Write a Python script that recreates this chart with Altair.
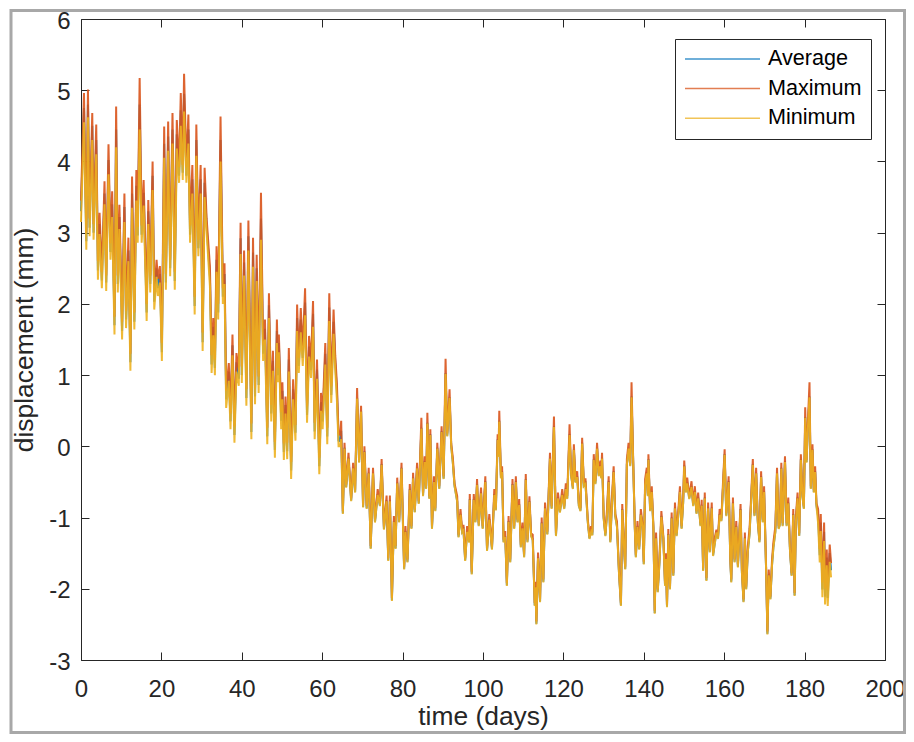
import altair as alt
import pandas as pd

DAYS = [
    0.0, 0.74, 1.32, 1.73, 2.14, 2.80, 3.13, 3.79, 4.21, 4.62,
    5.19, 5.85, 6.27, 6.84, 7.34, 7.75, 8.33, 8.74, 9.15, 9.56,
    10.22, 10.80, 11.21, 11.79, 12.29, 12.70, 13.27, 13.77, 14.10, 14.59,
    15.09, 15.58, 16.33, 16.74, 17.23, 17.81, 18.22, 18.80, 19.13, 19.62,
    20.12, 20.69, 21.11, 21.68, 22.18, 22.76, 23.33, 23.83, 24.40, 24.82,
    25.31, 25.64, 26.22, 26.71, 27.13, 27.70, 28.28, 28.69, 29.19, 29.76,
    30.26, 30.75, 31.25, 32.07, 32.49, 32.90, 33.31, 33.72, 34.13, 34.71,
    35.29, 35.70, 36.11, 36.77, 37.19, 37.68, 38.17, 38.67, 39.25, 39.70,
    40.00, 40.57, 41.14, 41.64, 42.38, 42.79, 43.29, 43.70, 44.19, 44.77,
    45.30, 45.76, 46.34, 46.75, 47.33, 47.74, 48.23, 48.73, 49.00, 49.22,
    49.80, 50.10, 50.46, 50.87, 51.29, 51.70, 52.27, 52.77, 53.35, 53.76,
    54.17, 54.67, 55.16, 55.74, 56.23, 56.73, 57.22, 57.72, 58.13, 58.71,
    59.28, 59.70, 60.11, 60.77, 61.26, 61.76, 62.25, 62.83, 63.24, 63.65,
    64.07, 64.48, 64.72, 65.14, 65.55, 65.96, 66.54, 67.20, 67.69, 68.19,
    68.68, 69.18, 69.67, 70.17, 70.50, 71.07, 71.57, 72.06, 72.64, 73.13,
    73.80, 74.37, 74.78, 75.36, 76.02, 76.43, 76.84, 77.34, 77.83, 78.25,
    78.66, 79.15, 79.73, 80.38, 80.71, 81.21, 81.79, 82.20, 82.61, 83.02,
    83.60, 84.01, 84.67, 85.08, 85.50, 85.85, 86.16, 86.65, 86.90, 87.31,
    87.80, 88.13, 88.63, 89.12, 89.70, 90.20, 90.69, 91.10, 91.68, 92.09,
    92.50, 92.92, 93.58, 93.91, 94.40, 94.81, 95.14, 95.56, 96.05, 96.54,
    96.71, 97.20, 97.70, 98.11, 98.52, 98.94, 99.51, 99.92, 100.58, 101.00,
    101.57, 102.23, 102.81, 103.20, 103.64, 103.85, 104.05, 104.46, 104.75, 105.12,
    105.53, 105.94, 106.36, 106.77, 107.34, 107.76, 108.17, 108.58, 109.00, 109.41,
    109.82, 110.23, 110.64, 111.06, 111.55, 111.96, 112.37, 112.87, 113.05, 113.28,
    113.69, 114.19, 114.60, 115.01, 115.43, 116.00, 116.66, 117.07, 117.65, 118.15,
    118.64, 119.14, 119.71, 120.20, 120.60, 120.95, 121.53, 121.94, 122.36, 122.60,
    123.01, 123.43, 123.84, 124.25, 124.66, 125.08, 125.49, 126.07, 126.48, 126.89,
    127.20, 127.55, 127.96, 128.37, 128.79, 129.20, 129.40, 129.61, 130.02, 130.44,
    130.85, 131.26, 131.67, 132.08, 132.50, 132.91, 133.32, 133.82, 134.31, 134.64,
    134.97, 135.38, 135.79, 136.21, 136.62, 136.95, 137.36, 137.77, 138.02, 138.43,
    138.85, 139.26, 139.67, 140.00, 140.33, 140.74, 141.00, 141.15, 141.57, 141.98,
    142.39, 142.72, 143.05, 143.46, 143.87, 144.37, 144.86, 145.28, 145.50, 145.77,
    146.10, 146.51, 146.93, 147.34, 147.75, 148.16, 148.66, 148.99, 149.40, 149.81,
    150.06, 150.47, 150.80, 151.30, 151.87, 152.28, 152.70, 153.11, 153.52, 154.10,
    154.40, 154.76, 155.17, 155.58, 156.00, 156.41, 156.90, 157.23, 157.73, 158.06,
    158.46, 158.87, 159.30, 159.70, 160.11, 160.52, 161.10, 161.51, 161.76, 162.17,
    162.58, 163.00, 163.41, 163.82, 164.07, 164.40, 164.81, 165.14, 165.47, 165.88,
    166.30, 166.71, 167.12, 167.53, 167.94, 168.36, 168.77, 169.18, 169.59, 169.92,
    170.42, 170.75, 171.08, 171.49, 171.90, 172.23, 172.73, 173.14, 173.55, 173.88,
    174.21, 174.54, 175.12, 175.53, 175.94, 176.35, 176.77, 177.18, 177.51, 177.84,
    178.25, 178.66, 179.07, 179.49, 179.82, 180.15, 180.48, 180.81, 181.22, 181.55,
    181.96, 182.29, 182.62, 182.95, 183.36, 183.77, 184.02, 184.43, 184.85, 185.09,
    185.51, 185.75, 186.25, 186.58,
]

MAXIMUM = [
    3.45, 4.96, 3.0, 5.01, 3.2, 4.68, 3.12, 4.52, 2.6, 3.28,
    2.45, 3.72, 2.4, 4.24, 2.85, 3.58, 1.82, 4.77, 2.4, 3.39,
    1.75, 3.55, 1.9, 2.93, 1.3, 3.79, 1.88, 3.88, 3.08, 5.17,
    3.1, 3.74, 2.0, 3.46, 2.4, 4.0, 2.15, 2.62, 2.35, 2.53,
    1.45, 4.49, 2.42, 4.56, 2.62, 4.68, 2.45, 4.58, 3.92, 4.96,
    3.95, 5.23, 3.92, 4.66, 3.1, 3.95, 2.1, 4.52, 2.9, 3.95,
    1.6, 3.91, 3.2, 2.53, 1.28, 1.8, 1.22, 2.81, 2.0, 4.63,
    2.22, 2.57, 0.78, 1.17, 0.46, 1.57, 0.28, 1.31, 1.05, 3.14,
    1.12, 2.75, 0.8, 3.17, 0.32, 2.93, 0.82, 2.69, 0.98, 3.56,
    1.42, 1.78, 0.26, 2.15, 0.58, 1.34, 0.06, 1.78, 1.1, 1.57,
    0.48, 0.9, 0.04, 0.7, 0.05, 1.38, -0.22, 0.94, 0.3, 1.99,
    1.24, 1.94, 1.35, 2.22, 0.56, 1.55, 1.18, 2.04, 0.33, 1.22,
    -0.16, 0.75, 0.46, 1.45, 0.26, 2.15, 0.84, 1.92, 1.28, 0.89,
    0.18, 0.16, 0.36, -0.91, 0.05, -0.54, -0.09, -0.73, -0.23, -0.61,
    0.82, -0.19, 0.57, -0.82, 0.0, -0.84, -0.30, -1.40, -0.30, -1.03,
    -0.60, -0.80, -0.18, -1.13, -0.69, -1.57, -0.69, -2.13, -0.98, -1.40,
    -0.44, -1.03, -0.23, -1.69, -1.12, -1.59, -0.53, -1.12, -0.37, -0.89,
    -0.23, -0.77, 0.40, -0.66, -0.14, -0.56, 0.47, -0.70, 0.24, -1.12,
    -0.42, -0.87, 0.05, -0.56, 0.28, -0.42, 1.23, 0.18, 0.80, 0.04,
    -0.16, -0.52, -0.70, -1.24, -0.88, -1.17, -1.10, -1.57, -1.12, -1.31,
    -0.67, -1.76, -0.67, -1.03, -0.46, -1.08, -0.58, -1.12, -0.42, -1.43,
    -0.95, -1.41, -0.60, -0.86, 0.17, -0.11, 0.50, -0.41, -0.28, -1.31,
    -1.19, -1.92, -0.98, -1.59, -0.46, -1.12, -0.42, -1.03, -0.74, -1.38,
    -1.07, -1.52, -0.39, -1.31, -0.70, -1.22, -1.24, -2.20, -1.90, -2.46,
    -1.49, -2.15, -1.00, -1.87, -0.79, -1.20, -0.09, -0.84, 0.42, -1.22,
    -0.65, -0.89, -0.60, -0.84, -0.52, -0.70, 0.31, -0.38, -0.56, 0.03,
    -0.47, -0.35, -0.80, -0.87, 0.12, -0.52, -0.45, -1.03, -1.26, -1.12,
    -1.21, -0.11, -0.49, 0.05, -0.38, -0.20, -0.41, -0.09, -0.98, -1.22,
    -0.88, -0.42, -1.31, -0.72, -0.28, -0.95, -1.05, -1.73, -2.20, -0.81,
    -1.26, -1.69, -0.18, 0.05, -0.24, 0.90, -0.19, -1.12, -1.52, -1.05,
    -1.41, -0.88, -1.08, -1.62, -0.46, -0.30, -0.66, -0.11, -0.87, -0.56,
    -1.12, -2.31, -1.21, -2.01, -1.59, -0.91, -1.26, -1.92, -1.50, -2.22,
    -1.16, -1.97, -0.93, -1.78, -0.79, -1.22, -0.84, -0.56, -1.12, -0.70,
    -0.20, -0.61, -0.44, -0.70, -0.49, -0.80, -0.56, -0.91, -0.65, -1.08,
    -0.75, -1.71, -0.65, -1.85, -0.79, -1.45, -0.79, -1.50, -1.26, -1.17,
    -1.26, -0.88, -1.01, -0.51, -0.04, -0.94, -0.42, -1.55, -1.87, -0.72,
    -1.59, -1.05, -1.66, -1.12, -0.81, -1.73, -2.15, -1.21, -1.97, -1.40,
    -1.16, -0.70, -0.18, -0.94, -0.30, -1.03, -1.31, -0.35, -1.03, -0.56,
    -1.69, -2.60, -1.73, -2.11, -1.59, -1.35, -1.12, -0.30, -1.12, -1.02,
    -0.23, -1.08, -0.14, -1.08, -0.72, -1.41, -1.78, -0.88, -2.06, -0.98,
    -0.65, -1.22, -0.11, -0.68, -0.84, 0.55, -0.19, 0.33, 0.90, -0.56,
    0.03, -0.61, -0.28, -0.80, -0.88, -1.44, -0.95, -1.91, -1.07, -2.0,
    -1.45, -2.02, -1.38, -1.64,
]

AVERAGE = [
    3.3, 4.75, 2.88, 4.8, 3.07, 4.5, 3.0, 4.3, 2.47, 3.12,
    2.33, 3.55, 2.3, 4.02, 2.73, 3.4, 1.7, 4.45, 2.28, 3.22,
    1.62, 3.36, 1.78, 2.75, 1.18, 3.55, 1.75, 3.66, 2.96, 4.8,
    2.97, 3.56, 1.88, 3.3, 2.28, 3.8, 2.03, 2.5, 2.22, 2.42,
    1.32, 4.25, 2.3, 4.35, 2.5, 4.45, 2.32, 4.38, 3.8, 4.72,
    3.84, 4.95, 3.8, 4.45, 2.97, 3.75, 1.97, 4.3, 2.78, 3.75,
    1.46, 3.7, 3.1, 2.38, 1.15, 1.68, 1.1, 2.62, 1.88, 4.3,
    2.1, 2.42, 0.66, 1.05, 0.35, 1.42, 0.16, 1.18, 0.95, 2.92,
    1.0, 2.58, 0.68, 2.95, 0.2, 2.72, 0.7, 2.5, 0.86, 3.2,
    1.3, 1.65, 0.14, 1.98, 0.46, 1.2, -0.05, 1.62, 1.0, 1.45,
    0.36, 0.78, -0.08, 0.58, -0.07, 1.22, -0.34, 0.8, 0.19, 1.8,
    1.13, 1.78, 1.24, 2.02, 0.44, 1.4, 1.07, 1.86, 0.21, 1.08,
    -0.28, 0.62, 0.35, 1.3, 0.14, 1.95, 0.72, 1.75, 1.18, 0.78,
    0.08, 0.07, 0.22, -0.94, -0.02, -0.57, -0.16, -0.76, -0.30, -0.64,
    0.68, -0.22, 0.50, -0.85, -0.07, -0.87, -0.37, -1.43, -0.37, -1.06,
    -0.67, -0.83, -0.25, -1.16, -0.76, -1.60, -0.76, -2.16, -1.05, -1.43,
    -0.51, -1.06, -0.30, -1.72, -1.19, -1.62, -0.60, -1.15, -0.44, -0.92,
    -0.30, -0.80, 0.26, -0.69, -0.21, -0.59, 0.33, -0.73, 0.17, -1.15,
    -0.49, -0.90, -0.02, -0.59, 0.21, -0.45, 1.03, 0.15, 0.69, 0.01,
    -0.23, -0.55, -0.77, -1.27, -0.95, -1.20, -1.17, -1.60, -1.19, -1.34,
    -0.74, -1.79, -0.74, -1.06, -0.53, -1.11, -0.65, -1.15, -0.49, -1.46,
    -1.02, -1.44, -0.67, -0.89, 0.10, -0.14, 0.36, -0.44, -0.35, -1.34,
    -1.26, -1.95, -1.05, -1.62, -0.53, -1.15, -0.49, -1.06, -0.81, -1.41,
    -1.14, -1.55, -0.46, -1.34, -0.77, -1.25, -1.31, -2.23, -1.97, -2.49,
    -1.56, -2.18, -1.07, -1.90, -0.86, -1.23, -0.16, -0.87, 0.28, -1.25,
    -0.72, -0.92, -0.67, -0.87, -0.59, -0.73, 0.17, -0.41, -0.59, -0.04,
    -0.50, -0.42, -0.83, -0.90, 0.05, -0.55, -0.52, -1.06, -1.29, -1.19,
    -1.24, -0.18, -0.52, -0.02, -0.41, -0.27, -0.44, -0.16, -1.01, -1.25,
    -0.95, -0.49, -1.34, -0.79, -0.35, -0.98, -1.12, -1.76, -2.23, -0.88,
    -1.29, -1.72, -0.25, -0.02, -0.27, 0.70, -0.22, -1.15, -1.55, -1.12,
    -1.44, -0.95, -1.11, -1.65, -0.53, -0.37, -0.69, -0.18, -0.90, -0.63,
    -1.15, -2.34, -1.28, -2.04, -1.66, -0.98, -1.29, -1.95, -1.57, -2.25,
    -1.23, -2.00, -1.00, -1.81, -0.86, -1.25, -0.91, -0.63, -1.15, -0.77,
    -0.27, -0.64, -0.51, -0.73, -0.56, -0.83, -0.63, -0.94, -0.72, -1.11,
    -0.82, -1.74, -0.72, -1.88, -0.86, -1.48, -0.86, -1.53, -1.33, -1.20,
    -1.29, -0.95, -1.04, -0.58, -0.11, -0.97, -0.49, -1.58, -1.90, -0.79,
    -1.62, -1.12, -1.69, -1.19, -0.88, -1.76, -2.18, -1.28, -2.00, -1.47,
    -1.23, -0.77, -0.25, -0.97, -0.37, -1.06, -1.34, -0.42, -1.06, -0.63,
    -1.72, -2.63, -1.80, -2.14, -1.66, -1.42, -1.19, -0.37, -1.15, -1.09,
    -0.30, -1.11, -0.21, -1.11, -0.79, -1.44, -1.81, -0.95, -2.09, -1.05,
    -0.72, -1.25, -0.18, -0.71, -0.87, 0.41, -0.22, 0.26, 0.70, -0.59,
    -0.04, -0.64, -0.35, -0.83, -0.98, -1.53, -1.07, -2.01, -1.2, -2.11,
    -1.56, -2.13, -1.5, -1.74,
]

MINIMUM = [
    3.15, 4.55, 2.76, 4.62, 2.95, 4.3, 2.90, 4.1, 2.34, 2.98,
    2.22, 3.4, 2.18, 3.82, 2.62, 3.22, 1.57, 4.2, 2.16, 3.05,
    1.50, 3.15, 1.66, 2.6, 1.06, 3.35, 1.64, 3.45, 2.86, 4.45,
    2.86, 3.38, 1.76, 3.12, 2.16, 3.6, 1.92, 2.38, 2.11, 2.3,
    1.20, 4.05, 2.2, 4.15, 2.39, 4.25, 2.2, 4.18, 3.7, 4.5,
    3.74, 4.7, 3.7, 4.25, 2.86, 3.55, 1.85, 4.08, 2.67, 3.55,
    1.34, 3.5, 3.0, 2.25, 1.03, 1.56, 1.0, 2.45, 1.78, 4.0,
    2.0, 2.28, 0.54, 0.92, 0.24, 1.28, 0.05, 1.05, 0.85, 2.7,
    0.89, 2.4, 0.57, 2.75, 0.10, 2.52, 0.59, 2.32, 0.75, 2.9,
    1.2, 1.5, 0.03, 1.8, 0.35, 1.06, -0.16, 1.45, 0.9, 1.32,
    0.24, 0.66, -0.19, 0.46, -0.18, 1.05, -0.46, 0.66, 0.08, 1.62,
    1.03, 1.6, 1.13, 1.84, 0.33, 1.26, 0.96, 1.68, 0.10, 0.95,
    -0.39, 0.5, 0.24, 1.15, 0.03, 1.76, 0.61, 1.58, 1.08, 0.66,
    0.0, 0.0, 0.1, -0.95, -0.03, -0.58, -0.17, -0.77, -0.31, -0.65,
    0.67, -0.23, 0.49, -0.86, -0.08, -0.88, -0.38, -1.44, -0.38, -1.07,
    -0.68, -0.84, -0.26, -1.17, -0.77, -1.61, -0.77, -2.17, -1.06, -1.44,
    -0.52, -1.07, -0.31, -1.73, -1.20, -1.63, -0.61, -1.16, -0.45, -0.93,
    -0.31, -0.81, 0.25, -0.70, -0.22, -0.60, 0.32, -0.74, 0.16, -1.16,
    -0.50, -0.91, -0.03, -0.60, 0.20, -0.46, 1.02, 0.14, 0.68, 0.0,
    -0.24, -0.56, -0.78, -1.28, -0.96, -1.21, -1.18, -1.61, -1.20, -1.35,
    -0.75, -1.80, -0.75, -1.07, -0.54, -1.12, -0.66, -1.16, -0.50, -1.47,
    -1.03, -1.45, -0.68, -0.90, 0.09, -0.15, 0.35, -0.45, -0.36, -1.35,
    -1.27, -1.96, -1.06, -1.63, -0.54, -1.16, -0.50, -1.07, -0.82, -1.42,
    -1.15, -1.56, -0.47, -1.35, -0.78, -1.26, -1.32, -2.24, -1.98, -2.50,
    -1.57, -2.19, -1.08, -1.91, -0.87, -1.24, -0.17, -0.88, 0.27, -1.26,
    -0.73, -0.93, -0.68, -0.88, -0.60, -0.74, 0.16, -0.42, -0.60, -0.05,
    -0.51, -0.43, -0.84, -0.91, 0.04, -0.56, -0.53, -1.07, -1.30, -1.20,
    -1.25, -0.19, -0.53, -0.03, -0.42, -0.28, -0.45, -0.17, -1.02, -1.26,
    -0.96, -0.50, -1.35, -0.80, -0.36, -0.99, -1.13, -1.77, -2.24, -0.89,
    -1.30, -1.73, -0.26, -0.03, -0.28, 0.69, -0.23, -1.16, -1.56, -1.13,
    -1.45, -0.96, -1.12, -1.66, -0.54, -0.38, -0.70, -0.19, -0.91, -0.64,
    -1.16, -2.35, -1.29, -2.05, -1.67, -0.99, -1.30, -1.96, -1.58, -2.26,
    -1.24, -2.01, -1.01, -1.82, -0.87, -1.26, -0.92, -0.64, -1.16, -0.78,
    -0.28, -0.65, -0.52, -0.74, -0.57, -0.84, -0.64, -0.95, -0.73, -1.12,
    -0.83, -1.75, -0.73, -1.89, -0.87, -1.49, -0.87, -1.54, -1.34, -1.21,
    -1.30, -0.96, -1.05, -0.59, -0.12, -0.98, -0.50, -1.59, -1.91, -0.80,
    -1.63, -1.13, -1.70, -1.20, -0.89, -1.77, -2.19, -1.29, -2.01, -1.48,
    -1.24, -0.78, -0.26, -0.98, -0.38, -1.07, -1.35, -0.43, -1.07, -0.64,
    -1.73, -2.64, -1.81, -2.15, -1.67, -1.43, -1.20, -0.38, -1.16, -1.10,
    -0.31, -1.12, -0.22, -1.12, -0.80, -1.45, -1.82, -0.96, -2.10, -1.06,
    -0.73, -1.26, -0.19, -0.72, -0.88, 0.40, -0.23, 0.25, 0.69, -0.60,
    -0.05, -0.65, -0.36, -0.84, -1.08, -1.63, -1.19, -2.12, -1.33, -2.22,
    -1.67, -2.24, -1.62, -1.84,
]

SERIES = ["Average", "Maximum", "Minimum"]
COLORS = ["#0072BD", "#D95319", "#EDB120"]
X_TICKS = [0, 20, 40, 60, 80, 100, 120, 140, 160, 180, 200]
Y_TICKS = [-3, -2, -1, 0, 1, 2, 3, 4, 5, 6]

rows = []
for name, vals in zip(SERIES, [AVERAGE, MAXIMUM, MINIMUM]):
    for d, v in zip(DAYS, vals):
        rows.append({"day": d, "value": v, "series": name})
df = pd.DataFrame(rows)

FONT = "Liberation Sans"
INK = "#262626"
W, H = 804, 641

xscale = alt.Scale(domain=[0, 200], nice=False, zero=False)
yscale = alt.Scale(domain=[-3, 6], nice=False, zero=False)

common_axis = dict(
    grid=False, domain=False, ticks=True, tickSize=8, tickColor=INK,
    tickWidth=1, offset=-8, labelFont=FONT, labelFontSize=24,
    labelColor=INK, titleFont=FONT, titleFontSize=26.4,
    titleFontWeight="normal", titleColor=INK,
)

x_bottom = alt.Axis(
    orient="bottom", values=X_TICKS, title="time (days)",
    labelPadding=17.5, labelFlush=False, labelOverlap=False,
    labelExpr="'' + datum.value",
    titleBaseline="alphabetic", titleY=72, **common_axis,
)
y_left = alt.Axis(
    orient="left", values=Y_TICKS, title="displacement (mm)",
    labelPadding=11, labelOffset=2, labelFlush=False, labelOverlap=False,
    labelExpr="'' + datum.value",
    titleAngle=270, titleBaseline="alphabetic", titleAlign="center",
    titleX=-56.5, titleY=320.5, **common_axis,
)
x_top = alt.Axis(orient="top", values=X_TICKS, labels=False, title=None, **common_axis)
y_right = alt.Axis(orient="right", values=Y_TICKS, labels=False, title=None, **common_axis)

legend = alt.Legend(
    title=None, orient="none", legendX=594, legendY=20,
    symbolType="stroke", symbolSize=5625, symbolStrokeWidth=1.5,
    symbolOpacity=0.75, clipHeight=22,
    labelFont=FONT, labelFontSize=21.6, labelColor="black", labelOffset=7,
    labelLimit=300, padding=9, rowPadding=7.6,
    strokeColor=INK, fillColor="white", cornerRadius=0,
)

frame = alt.Chart(pd.DataFrame({"k": [0]})).mark_rect(
    fillOpacity=0, stroke="#a8a8a8", strokeWidth=3
).encode(
    x=alt.value(-70), x2=alt.value(823.5), y=alt.value(-8.5), y2=alt.value(713.5)
)

lines = alt.Chart(df).mark_line(strokeWidth=2, opacity=0.9).encode(
    x=alt.X("day:Q", scale=xscale, axis=x_bottom),
    y=alt.Y("value:Q", scale=yscale, axis=y_left),
    color=alt.Color("series:N", scale=alt.Scale(domain=SERIES, range=COLORS), legend=legend),
)

mirror = alt.Chart(df).mark_line(opacity=0).encode(
    x=alt.X("day:Q", scale=xscale, axis=x_top),
    y=alt.Y("value:Q", scale=yscale, axis=y_right),
    detail="series:N",
)

chart = (
    alt.layer(frame, lines, mirror)
    .resolve_axis(x="independent", y="independent")
    .properties(
        width=W, height=H,
        autosize=alt.AutoSizeParams(type="none"),
        padding={"left": 73, "top": 11, "right": 21, "bottom": 74},
        background="white",
    )
    .configure_view(stroke=INK, strokeWidth=1)
)

chart.save("out.html", embed_options={"renderer": "svg", "actions": False})
